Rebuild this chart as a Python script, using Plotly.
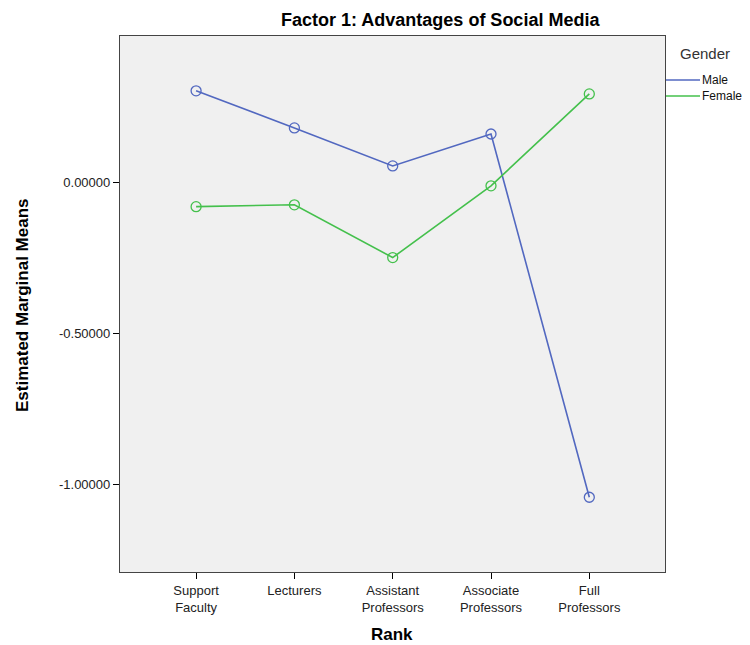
import plotly.graph_objects as go

ranks = ["Support<br>Faculty", "Lecturers", "Assistant<br>Professors", "Associate<br>Professors", "Full<br>Professors"]
male = [0.305, 0.182, 0.056, 0.162, -1.043]
female = [-0.079, -0.073, -0.248, -0.010, 0.295]
ytick_vals = [0.0, -0.5, -1.0]
ytick_text = ["0.00000", "-0.50000", "-1.00000"]

xs = list(range(len(ranks)))
blue = "#5268c0"
green = "#44c04c"
font = "Liberation Sans, Arial, sans-serif"

W, H = 742, 637
L, R, T, B = 112, 85, 28, 73
PW, PH = W - L - R, H - T - B


def px(x):
    return (x - L) / PW


def py(y):
    return 1 - (y - T) / PH


fig = go.Figure()
for name, vals, col in [("Male", male, blue), ("Female", female, green)]:
    fig.add_trace(go.Scatter(x=xs, y=vals, mode="lines+markers", name=name, showlegend=False,
                             line=dict(color=col, width=1.6),
                             marker=dict(symbol="circle-open", size=10, color=col, line=dict(width=1.3))))

fig.update_layout(
    width=W, height=H,
    margin=dict(l=L, r=R, t=T, b=B, autoexpand=False),
    paper_bgcolor="white", plot_bgcolor="#f0f0f0",
    font=dict(family=font, size=13, color="black"),
    showlegend=False,
)
# title
fig.add_annotation(text="<b>Factor 1: Advantages of Social Media</b>", xref="paper", yref="paper",
                   x=px(432), y=py(12), xanchor="center", yanchor="middle",
                   showarrow=False, font=dict(size=18))
# axis titles
fig.add_annotation(text="<b>Rank</b>", xref="paper", yref="paper", x=px(384), y=py(626),
                   xanchor="center", yanchor="middle", showarrow=False, font=dict(size=17))
fig.add_annotation(text="<b>Estimated Marginal Means</b>", xref="paper", yref="paper", x=px(14), y=py(297),
                   xanchor="center", yanchor="middle", textangle=-90, showarrow=False, font=dict(size=17))
# legend
fig.add_annotation(text="Gender", xref="paper", yref="paper", x=px(670), y=py(45),
                   xanchor="left", yanchor="middle", showarrow=False, font=dict(size=15, color="#333"))
for name, col, yy in [("Male", blue, 72), ("Female", green, 88)]:
    fig.add_shape(type="line", xref="paper", yref="paper", x0=px(658), x1=px(692), y0=py(yy), y1=py(yy),
                  line=dict(color=col, width=1.6))
    fig.add_annotation(text=name, xref="paper", yref="paper", x=px(692), y=py(yy),
                       xanchor="left", yanchor="middle", showarrow=False, font=dict(size=12, color="#111"))

fig.update_xaxes(range=[-0.774, 4.77], tickvals=xs, ticktext=ranks, automargin=False,
                 showgrid=False, zeroline=False, ticks="outside", ticklen=6, tickcolor="black",
                 showline=True, linecolor="#444", linewidth=1.2, mirror=True,
                 tickfont=dict(size=13, color="#222"))
fig.update_yaxes(range=[-1.291, 0.487], tickvals=ytick_vals, ticktext=ytick_text, automargin=False,
                 showgrid=False, zeroline=False, ticks="outside", ticklen=6, tickcolor="black",
                 showline=True, linecolor="#444", linewidth=1.2, mirror=True,
                 tickfont=dict(size=13, color="#222"))

fig.write_html("out.html")
